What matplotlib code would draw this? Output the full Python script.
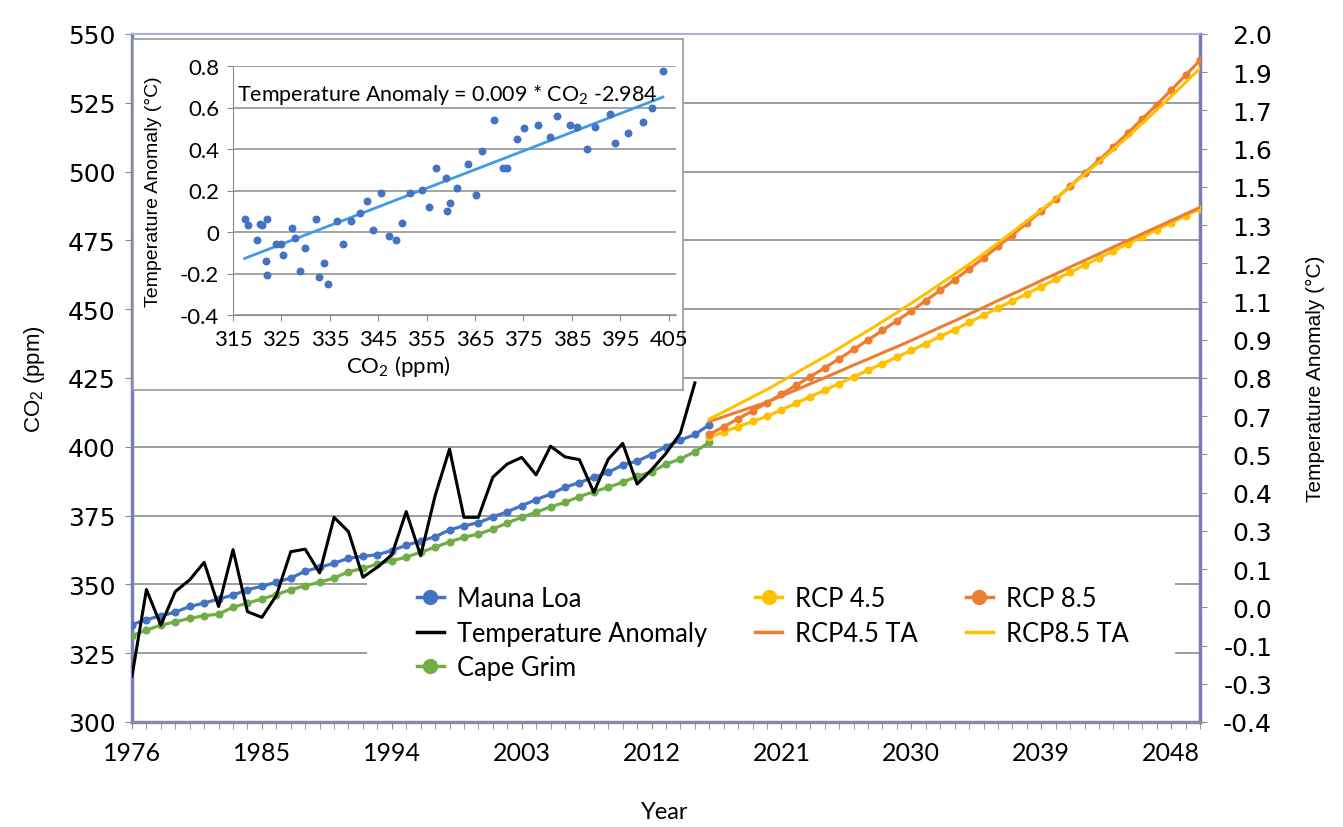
import numpy as np
import matplotlib.pyplot as plt
from matplotlib.lines import Line2D
from matplotlib.patches import Rectangle

plt.rcParams['mathtext.default'] = 'regular'

# Measured CO2 (ppm), 1976-2016
years_obs = list(range(1976, 2017))
mauna_loa = [335.4, 337.2, 338.6, 339.9, 342.0, 343.2, 344.7, 346.1, 348.1, 349.3,
             350.8, 352.3, 354.8, 356.2, 357.7, 359.5, 360.2, 360.8, 362.3, 364.2,
             365.8, 367.3, 369.8, 371.3, 372.4, 374.5, 376.4, 378.6, 380.8, 382.8,
             385.3, 387.0, 388.9, 390.7, 393.4, 394.8, 397.2, 400.1, 402.4, 404.5,
             408.0]
cape_grim = [331.4, 333.4, 335.2, 336.4, 337.7, 338.6, 339.2, 341.7, 343.2, 344.7,
             346.3, 348.1, 349.5, 350.8, 352.3, 354.6, 355.8, 357.4, 358.6, 359.9,
             361.7, 363.5, 365.5, 367.1, 368.3, 370.1, 372.3, 374.4, 376.2, 378.2,
             379.8, 381.9, 383.7, 385.3, 387.1, 389.3, 390.9, 393.7, 395.6, 398.2,
             401.6]

# Global temperature anomaly (deg C), 1976-2015
years_temp = list(range(1976, 2016))
temp_anomaly = [-0.24, 0.062, -0.062, 0.055, 0.096, 0.157, 0.003, 0.201, -0.015, -0.035,
                0.041, 0.194, 0.203, 0.120, 0.314, 0.264, 0.105, 0.140, 0.183, 0.334,
                0.180, 0.389, 0.552, 0.314, 0.314, 0.454, 0.500, 0.523, 0.462, 0.562,
                0.525, 0.515, 0.401, 0.517, 0.572, 0.430, 0.480, 0.537, 0.608, 0.783]

# RCP scenario CO2 (ppm) and temperature anomaly, 2016-2050
years_rcp = list(range(2016, 2051))
rcp45 = [403.5, 405.4, 407.3, 409.2, 411.1, 413.4, 415.8, 418.2, 420.6, 423.0,
         425.4, 427.8, 430.2, 432.6, 435.0, 437.5, 440.1, 442.6, 445.2, 447.8,
         450.4, 453.0, 455.6, 458.2, 460.8, 463.4, 466.0, 468.6, 471.2, 473.8,
         476.3, 478.9, 481.4, 484.0, 486.5]
rcp85 = [404.5, 407.3, 410.2, 413.1, 416.0, 419.1, 422.3, 425.5, 428.7, 432.0,
         435.4, 438.8, 442.3, 445.8, 449.4, 453.1, 456.9, 460.7, 464.6, 468.6,
         472.8, 477.0, 481.3, 485.6, 490.0, 494.7, 499.4, 504.1, 509.0, 514.0,
         519.1, 524.3, 529.6, 535.0, 540.4]
rcp45_ta = [0.648, 0.665, 0.682, 0.699, 0.716, 0.737, 0.758, 0.780, 0.801, 0.823,
            0.845, 0.866, 0.888, 0.909, 0.931, 0.954, 0.977, 0.999, 1.023, 1.046,
            1.070, 1.093, 1.116, 1.140, 1.163, 1.187, 1.210, 1.233, 1.257, 1.280,
            1.303, 1.326, 1.349, 1.372, 1.395]
rcp85_ta = [0.657, 0.682, 0.708, 0.734, 0.760, 0.788, 0.817, 0.846, 0.874, 0.904,
            0.935, 0.965, 0.997, 1.028, 1.061, 1.094, 1.128, 1.162, 1.197, 1.233,
            1.271, 1.309, 1.348, 1.386, 1.426, 1.468, 1.511, 1.553, 1.597, 1.642,
            1.688, 1.735, 1.782, 1.831, 1.880]

# CO2 vs temperature anomaly scatter for the inset
scatter_co2 = [317.4, 318.2, 319.9, 320.5, 321.0, 322.1, 321.9, 322.1, 323.9, 324.9,
               325.4, 327.2, 327.9, 328.8, 329.9, 332.2, 332.8, 333.8, 334.6, 336.5,
               337.8, 339.3, 341.3, 342.6, 344.0, 345.5, 347.2, 348.6, 349.9, 351.5,
               354.0, 355.5, 356.9, 359.0, 359.3, 359.9, 361.3, 363.6, 365.1, 366.5,
               369.0, 370.8, 371.6, 373.6, 375.2, 378.0, 380.4, 381.9, 384.6, 386.0,
               388.2, 389.7, 392.8, 393.9, 396.5, 399.6, 401.6, 403.8]
scatter_ta = [0.061, 0.032, -0.039, 0.037, 0.032, 0.061, -0.138, -0.209, -0.056, -0.056,
              -0.109, 0.021, -0.030, -0.188, -0.079, 0.061, -0.217, -0.148, -0.249, 0.051,
              -0.059, 0.051, 0.091, 0.149, 0.010, 0.189, -0.019, -0.039, 0.042, 0.189,
              0.202, 0.120, 0.310, 0.260, 0.101, 0.140, 0.210, 0.329, 0.180, 0.388,
              0.538, 0.310, 0.310, 0.448, 0.499, 0.518, 0.459, 0.559, 0.517, 0.507,
              0.398, 0.507, 0.568, 0.429, 0.478, 0.528, 0.597, 0.777]
fit_slope = 0.009
fit_intercept = -2.984

right_ticklabels = ['-0.4', '-0.3', '-0.1', '0.0', '0.1', '0.3', '0.4', '0.5', '0.7',
                    '0.8', '0.9', '1.1', '1.2', '1.3', '1.5', '1.6', '1.7', '1.9', '2.0']
inset_yticklabels = ['-0.4', '-0.2', '0', '0.2', '0.4', '0.6', '0.8']

blue = '#4472c4'
green = '#70ad47'
orange = '#ed7d31'
gold = '#ffc000'
grid_gray = '#8c8c8c'
axis_blue = '#7a7cb6'

W, H = 1343, 828
def px_box(x0, y0, x1, y1):
    return [x0 / W, 1 - y1 / H, (x1 - x0) / W, (y1 - y0) / H]

text_font = ['Lato', 'DejaVu Sans']
tick_font = ['DejaVu Sans']
narrow_font = ['Liberation Sans Narrow', 'Liberation Sans', 'DejaVu Sans']

fig = plt.figure(figsize=(W / 100, H / 100), dpi=100)
ax = fig.add_axes(px_box(132, 35, 1200, 723))

ax.set_xlim(1976, 2050)
ax.set_ylim(300, 550)
ax.set_yticks(range(300, 551, 25))
ax.set_xticks(range(1976, 2050, 9))
ax.set_xticks(range(1976, 2051), minor=True)
ax.grid(axis='y', color=grid_gray, lw=1.2)
ax.set_axisbelow(True)
ax.tick_params(axis='y', length=5, color=grid_gray, labelsize=18, pad=7)
ax.tick_params(axis='x', which='both', length=5, color=grid_gray, pad=9)
for lab in ax.get_yticklabels():
    lab.set_fontfamily(tick_font)
for lab in ax.get_xticklabels():
    lab.set_fontfamily(text_font)
    lab.set_fontsize(18)
for side in ['left', 'right']:
    ax.spines[side].set_color(axis_blue)
    ax.spines[side].set_linewidth(2.5)
ax.spines['top'].set_color('#aab4d2')
ax.spines['top'].set_linewidth(1.5)
ax.spines['bottom'].set_color('#8a8aa4')
ax.spines['bottom'].set_linewidth(2.5)

ax.plot(years_obs, mauna_loa, color=blue, lw=2.3, marker='o', ms=4.8, zorder=3)
ax.plot(years_obs, cape_grim, color=green, lw=2.3, marker='o', ms=4.8, zorder=3)
ax.plot(years_rcp, rcp45, color=gold, lw=2.3, marker='o', ms=4.8, zorder=3)
ax.plot(years_rcp, rcp85, color=orange, lw=2.3, marker='o', ms=4.8, zorder=3)

ax.set_ylabel('CO$_2$ (ppm)', fontsize=16, family=narrow_font)
ax.yaxis.set_label_coords((47 - 132) / 1068, 0.5)
ax.set_xlabel('Year', fontsize=17, family=text_font)
ax.xaxis.set_label_coords(0.499, (723 - 802) / 688)

# temperature on the secondary axis
ax2 = ax.twinx()
ax2.set_ylim(-0.4, 2.0)
ax2.set_yticks(np.linspace(-0.4, 2.0, 19))
ax2.set_yticklabels(right_ticklabels)
ax2.tick_params(axis='y', length=5, color=grid_gray, labelsize=18, pad=47)
for lab in ax2.get_yticklabels():
    lab.set_horizontalalignment('right')
    lab.set_fontfamily(tick_font)
for side in ['left', 'right', 'top', 'bottom']:
    ax2.spines[side].set_visible(False)

ax2.plot(years_temp, temp_anomaly, color='black', lw=2.2, zorder=3)
ax2.plot(years_rcp, rcp45_ta, color=orange, lw=2.2, zorder=3)
ax2.plot(years_rcp, rcp85_ta, color=gold, lw=2.2, zorder=3)
ax2.set_ylabel('Temperature Anomaly (°C)', fontsize=15, family=narrow_font)
ax2.yaxis.set_label_coords((1306 - 132) / 1068, 0.5)

# white patch behind the legend hides the gridlines there
ax2.add_patch(Rectangle((367 / W, 1 - 700 / H), (1175 - 367) / W, (700 - 578) / H,
                        transform=fig.transFigure, facecolor='white', edgecolor='none',
                        zorder=1))
handles = [
    Line2D([], [], color=blue, lw=2.5, marker='o', ms=10),
    Line2D([], [], color='black', lw=2.5),
    Line2D([], [], color=green, lw=2.5, marker='o', ms=10),
    Line2D([], [], color=gold, lw=2.5, marker='o', ms=10),
    Line2D([], [], color=orange, lw=2.5),
    Line2D([], [], color=orange, lw=2.5, marker='o', ms=10),
    Line2D([], [], color=gold, lw=2.5),
]
labels = ['Mauna Loa', 'Temperature Anomaly', 'Cape Grim', 'RCP 4.5', 'RCP4.5 TA',
          'RCP 8.5', 'RCP8.5 TA']
leg = ax2.legend(handles, labels, ncol=3, frameon=False, loc='upper left',
                 bbox_to_anchor=(417 / W, 1 - 587 / H), bbox_transform=fig.transFigure,
                 borderpad=0, borderaxespad=0, handlelength=1.05, handletextpad=0.5,
                 columnspacing=1.9, labelspacing=0.38,
                 prop={'family': text_font, 'size': 18.4})
leg.set_zorder(6)

# inset: CO2 vs temperature anomaly
frame = fig.add_axes(px_box(133, 40, 683, 391))
frame.set_xticks([])
frame.set_yticks([])
frame.set_facecolor('white')
for s in frame.spines.values():
    s.set_color('#9a9a9a')
    s.set_linewidth(1.2)

inset = fig.add_axes(px_box(233, 67, 676, 316))
inset.set_xlim(315, 406.5)
inset.set_ylim(-0.4, 0.8)
inset.set_xticks(range(315, 406, 10))
inset.set_yticks([-0.4, -0.2, 0, 0.2, 0.4, 0.6, 0.8])
inset.set_yticklabels(inset_yticklabels)
inset.grid(axis='y', color=grid_gray, lw=1.1)
inset.set_axisbelow(True)
inset.tick_params(length=4, color=grid_gray, labelsize=16, pad=6)
for lab in inset.get_xticklabels() + inset.get_yticklabels():
    lab.set_fontfamily(text_font)
inset.spines['top'].set_visible(False)
inset.spines['right'].set_visible(False)
inset.spines['left'].set_color(grid_gray)
inset.spines['bottom'].set_color(grid_gray)

inset.scatter(scatter_co2, scatter_ta, s=22, color=blue, zorder=3)
fit_x = np.array([min(scatter_co2), max(scatter_co2)])
inset.plot(fit_x, fit_slope * fit_x + fit_intercept, color='#3d9be9', lw=2, zorder=2)
inset.text(0.009, 0.888, 'Temperature Anomaly = 0.009 * CO$_2$ -2.984',
           transform=inset.transAxes, fontsize=15.5, family=text_font, va='center')
inset.set_ylabel('Temperature Anomaly (°C)', fontsize=14, family=narrow_font)
inset.yaxis.set_label_coords((162 - 233) / 443, 0.5)
inset.set_xlabel('CO$_2$ (ppm)', fontsize=16, family=text_font)
inset.xaxis.set_label_coords((398 - 233) / 443, (316 - 354) / 249)

fig.savefig('out.png', dpi=100, facecolor='white')
